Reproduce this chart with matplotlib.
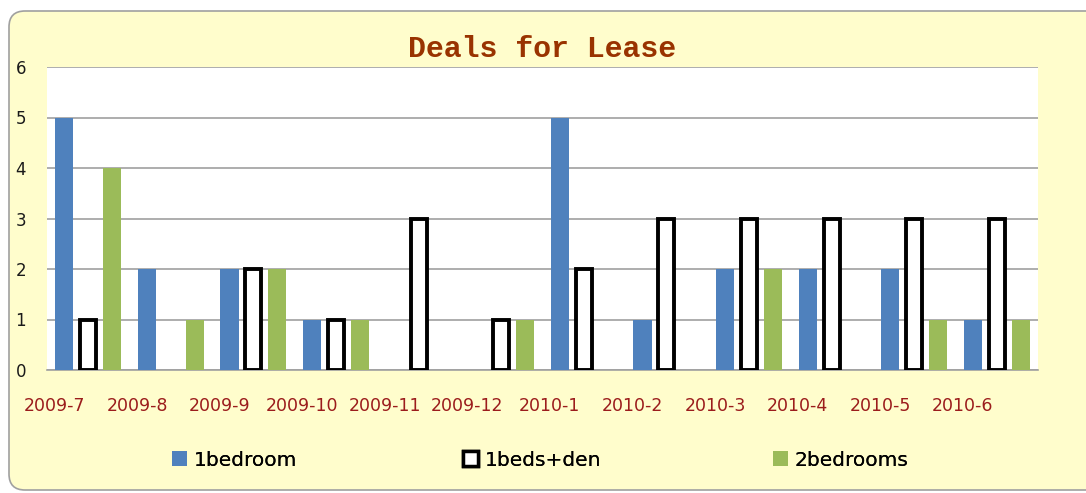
import matplotlib
matplotlib.use("Agg")
import matplotlib.pyplot as plt
import numpy as np
from matplotlib.patches import FancyBboxPatch, Patch

categories = ["2009-7", "2009-8", "2009-9", "2009-10", "2009-11", "2009-12",
              "2010-1", "2010-2", "2010-3", "2010-4", "2010-5", "2010-6"]
one_bedroom = [5, 2, 2, 1, 0, 0, 5, 1, 2, 2, 2, 1]
one_beds_den = [1, 0, 2, 1, 3, 1, 2, 3, 3, 3, 3, 3]
two_bedrooms = [4, 1, 2, 1, 0, 1, 0, 0, 2, 0, 1, 1]
series_names = ["1bedroom", "1beds+den", "2bedrooms"]
yticks = [0, 1, 2, 3, 4, 5, 6]

W, H = 1086, 493
fig = plt.figure(figsize=(W / 100, H / 100), dpi=100)
fig.patch.set_facecolor("white")

bg = "#FFFDCC"
# background axes in pixel units for the rounded frame
bax = fig.add_axes([0, 0, 1, 1], zorder=-5)
bax.set_xlim(0, W)
bax.set_ylim(H, 0)
bax.axis("off")
frame = FancyBboxPatch((9, 11), 1110 - 9, 490 - 11,
                       boxstyle="round,pad=0,rounding_size=16",
                       facecolor=bg, edgecolor="#A0A0A0", linewidth=1.2)
bax.add_patch(frame)

left, right, top, bottom = 47, 1038, 67, 370
ax = fig.add_axes([left / W, 1 - bottom / H, (right - left) / W, (bottom - top) / H])
ax.set_facecolor("white")

def nz(vals):
    # zero-height bars are not drawn (no outline)
    return [v if v else np.nan for v in vals]

x = np.arange(len(categories))
bw = 0.22
off = 0.29
blue = "#4F81BD"
green = "#9BBB59"
ax.bar(x - off, nz(one_bedroom), width=bw, color=blue, zorder=3)
ax.bar(x, nz(one_beds_den), width=bw * 0.88, facecolor="white", edgecolor="black",
       linewidth=2.8, zorder=3)
ax.bar(x + off, nz(two_bedrooms), width=bw, color=green, zorder=3)

ax.set_xlim(-0.5, len(categories) - 0.5)
ax.set_ylim(0, 6)
ax.set_yticks(yticks)
ax.yaxis.grid(True, color="#A0A0A0", linewidth=1.2, zorder=0)
ax.set_axisbelow(True)
for s in ["left", "right", "top"]:
    ax.spines[s].set_visible(False)
ax.spines["bottom"].set_color("#A0A0A0")
ax.spines["bottom"].set_linewidth(1.2)
ax.tick_params(axis="y", length=0, pad=15, labelsize=12, labelcolor="#1a1a1a")
ax.tick_params(axis="x", length=0)
ax.set_xticks([])
for xi, lab in zip(x, categories):
    ax.text(xi - 0.41, -0.72, lab, ha="center", va="center", fontsize=12.5,
            color="#9B1C1C", family="DejaVu Sans", clip_on=False)
for t in ax.get_yticklabels():
    t.set_family("DejaVu Sans")

fig.text(542 / W, 1 - 49 / H, "Deals for Lease", ha="center", va="center",
         fontsize=21.5, fontweight="bold", family="Liberation Mono", color="#993300")

# legend entries
leg_items = [
    (176, Patch(facecolor=blue, edgecolor="none"), series_names[0]),
    (467, Patch(facecolor="white", edgecolor="black", linewidth=2.5), series_names[1]),
    (777, Patch(facecolor=green, edgecolor="none"), series_names[2]),
]
for px, handle, name in leg_items:
    lg = fig.legend([handle], [name], loc="center left",
                    bbox_to_anchor=(px / W - 0.004, 1 - 460 / H), frameon=False,
                    fontsize=14.5, handlelength=0.75, handleheight=0.75,
                    handletextpad=0.35, borderaxespad=0, borderpad=0)
    fig.add_artist(lg)

fig.savefig("out.png", dpi=100, facecolor=fig.get_facecolor())
